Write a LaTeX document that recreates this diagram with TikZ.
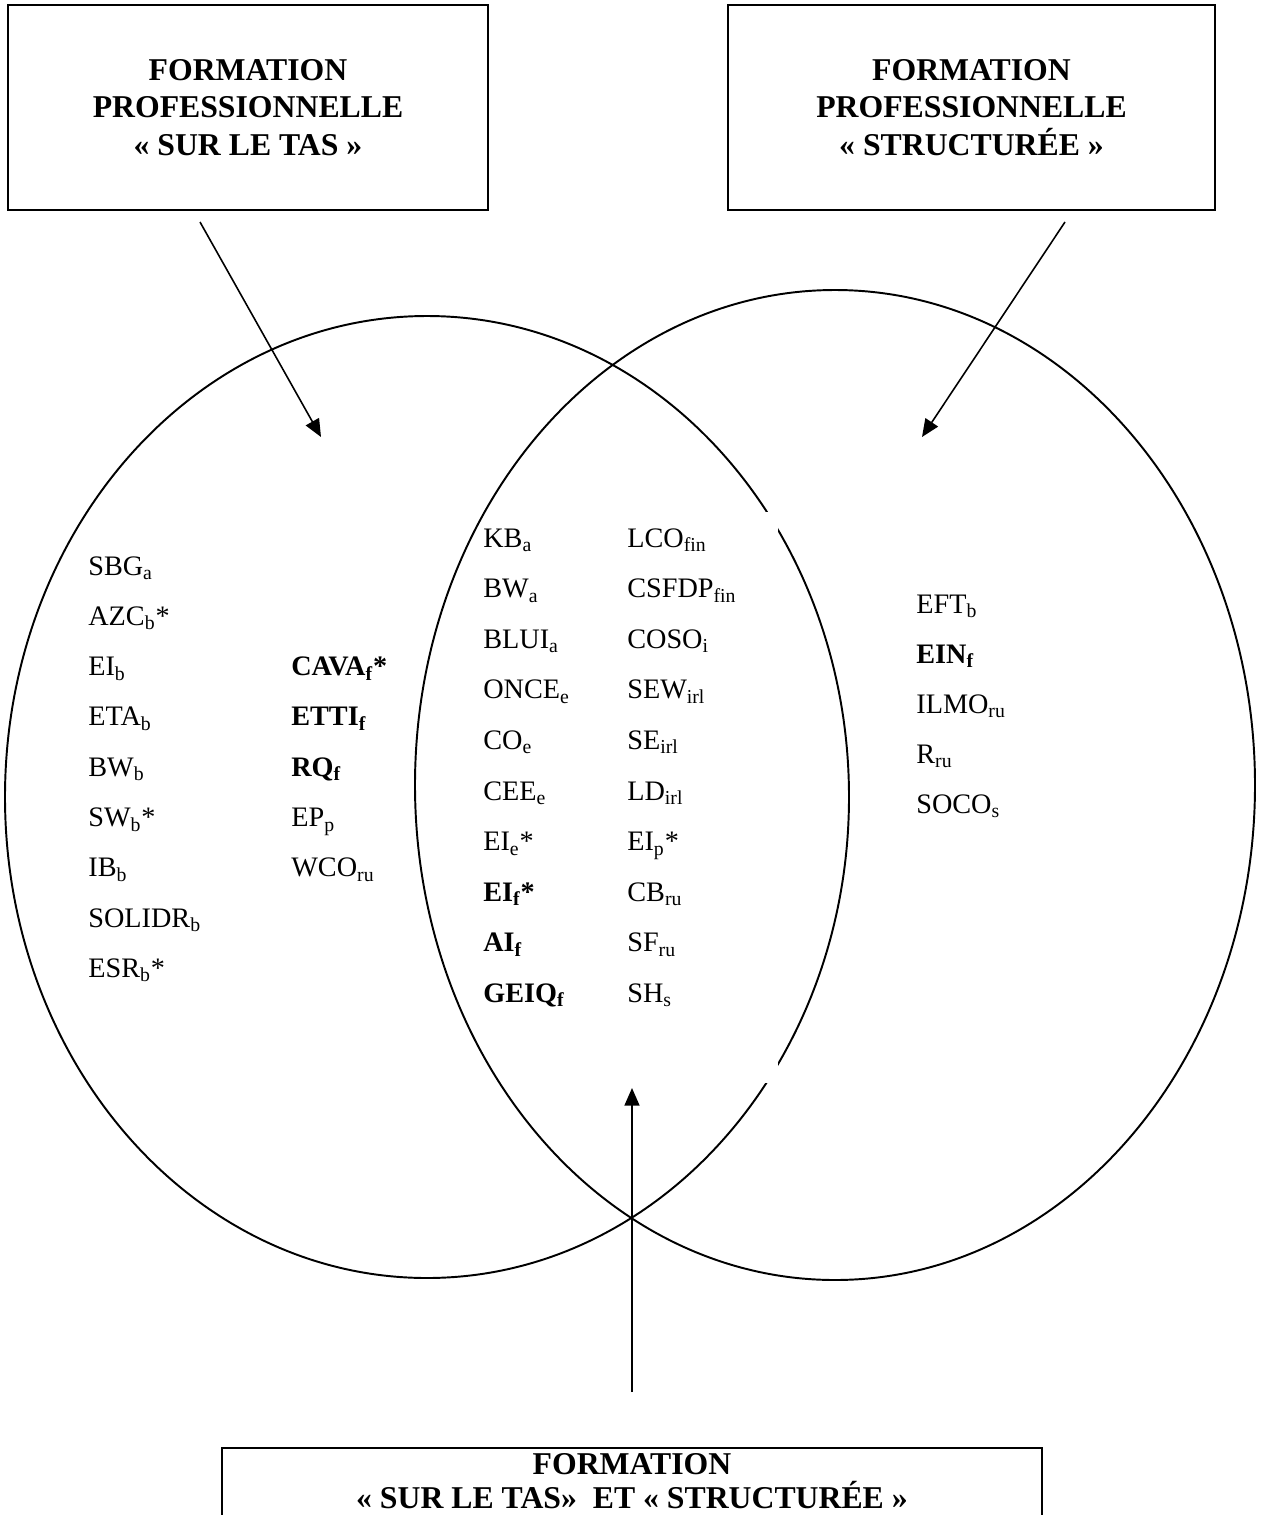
\documentclass[tikz,border=0pt]{standalone}
\usepackage{fontspec}
\setmainfont{Liberation Serif}
\usepackage{tikz}
\usetikzlibrary{arrows.meta}

\newcommand{\subsc}[1]{\textsubscript{#1}}

\begin{document}
\begin{tikzpicture}[x=0.567pt,y=-0.567pt,
 title/.style={draw,line width=1.3pt,align=center,inner sep=0pt,
   font=\fontsize{18}{21.3}\selectfont\bfseries},
 item/.style={anchor=base west,inner sep=0pt,font=\fontsize{16}{19}\selectfont},
 arrow/.style={-{Triangle[length=10pt,width=8.5pt]},line width=0.9pt},
 outline/.style={line width=1.1pt}]
\useasboundingbox (0,0) rectangle (1261,1515);

% the three boxes
\node[title,minimum width=272.2pt,minimum height=116.2pt] (tas) at (248,107.5)
 {FORMATION\\PROFESSIONNELLE\\«~SUR LE TAS~»};
\node[title,minimum width=276.1pt,minimum height=116.2pt] (struct) at (971.5,107.5)
 {FORMATION\\PROFESSIONNELLE\\«~STRUCTURÉE~»};
\node[title,anchor=north,minimum width=465pt,inner ysep=3pt,text depth=30pt,
 font=\fontsize{18}{19.5}\selectfont\bfseries] (both) at (632,1447)
 {FORMATION\\«~SUR LE TAS»~~ET «~STRUCTURÉE~»};

% the two sets
\draw[outline] (427,797) ellipse [x radius=422, y radius=481];
\draw[outline] (835,785) ellipse [x radius=420, y radius=495];
% frame of the text box hides the outline
\draw[white,line width=8pt] (605,519) rectangle (771,1076);

% arrows
\coordinate (tasA) at (200,222);
\coordinate (tasB) at (321,437);
\coordinate (structA) at (1065,222);
\coordinate (structB) at (922,437);
\coordinate (bothA) at (632,1392);
\coordinate (bothB) at (632,1088);
\draw[arrow] (tasA) -- (tasB);
\draw[arrow] (structA) -- (structB);
\draw[arrow] (bothA) -- (bothB);

% contents
\foreach \t [count=\i from 0] in {SBG\subsc{a},AZC\subsc{b}*,EI\subsc{b},ETA\subsc{b},
 BW\subsc{b},SW\subsc{b}*,IB\subsc{b},SOLIDR\subsc{b},ESR\subsc{b}*}
 \node[item] (gauche\i) at (88,575+50.3*\i) {\t};
\foreach \t [count=\i from 0] in {\textbf{CAVA\subsc{f}*},\textbf{ETTI\subsc{f}},
 \textbf{RQ\subsc{f}},EP\subsc{p},WCO\subsc{ru}}
 \node[item] (gaucheb\i) at (291,675.6+50.3*\i) {\t};
\foreach \t [count=\i from 0] in {KB\subsc{a},BW\subsc{a},BLUI\subsc{a},ONCE\subsc{e},
 CO\subsc{e},CEE\subsc{e},EI\subsc{e}*,\textbf{EI\subsc{f}*},\textbf{AI\subsc{f}},
 \textbf{GEIQ\subsc{f}}}
 \node[item] (milieu\i) at (483,547+50.6*\i) {\t};
\foreach \t [count=\i from 0] in {LCO\subsc{fin},CSFDP\subsc{fin},COSO\subsc{i},
 SEW\subsc{irl},SE\subsc{irl},LD\subsc{irl},EI\subsc{p}*,CB\subsc{ru},SF\subsc{ru},
 SH\subsc{s}}
 \node[item] (milieub\i) at (627,547+50.6*\i) {\t};
\foreach \t [count=\i from 0] in {EFT\subsc{b},\textbf{EIN\subsc{f}},ILMO\subsc{ru},
 R\subsc{ru},SOCO\subsc{s}}
 \node[item] (droite\i) at (916,613+50*\i) {\t};
\end{tikzpicture}
\end{document}
